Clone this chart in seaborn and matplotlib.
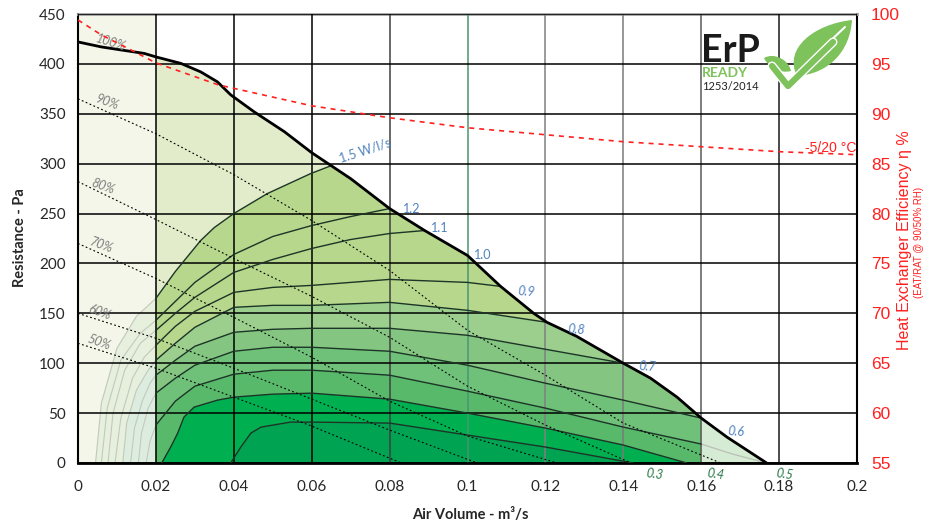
import matplotlib
matplotlib.use("Agg")
import matplotlib.pyplot as plt
import seaborn as sns
from matplotlib.path import Path
from matplotlib.patches import PathPatch
import matplotlib.patheffects as pe

sns.set_style("white")
plt.rcParams["font.family"] = ["Lato", "DejaVu Sans"]

# fan curve at 100 %
fan_x = [0, 0.006, 0.011, 0.017, 0.02, 0.0264, 0.0315, 0.0358, 0.0392, 0.0452, 0.053, 0.06,
         0.065, 0.07, 0.08, 0.089, 0.1, 0.1085, 0.117, 0.1204, 0.128, 0.14, 0.147, 0.1538,
         0.16, 0.1666, 0.1768]
fan_y = [422, 417, 414, 410.5, 407, 400.5, 392, 382, 369, 352, 332, 311,
         298, 285, 255, 233, 208, 177, 150, 141, 127, 100, 85, 66,
         45, 26, 0]

# reduced fan speeds (dotted)
speed_labels = ["90%", "80%", "70%", "60%", "50%"]
speed_x = [
    [0, 0.02, 0.04, 0.06, 0.08, 0.1, 0.12, 0.14, 0.165],
    [0, 0.02, 0.04, 0.06, 0.08, 0.1, 0.12, 0.142],
    [0, 0.02, 0.04, 0.06, 0.08, 0.1, 0.123],
    [0, 0.02, 0.04, 0.06, 0.08, 0.1025],
    [0, 0.02, 0.04, 0.06, 0.083],
]
speed_y = [
    [365, 330, 289, 243, 193, 133, 88, 40, 0],
    [282, 244, 205, 167, 126, 77, 38, 0],
    [220, 185, 146, 106, 62, 27, 0],
    [150, 125, 95, 64, 33, 0],
    [120, 95, 66, 37, 0],
]

# SFP contours (W/l/s)
sfp_levels = [1.5, 1.2, 1.1, 0.9, 0.8, 0.7, 0.6, 0.5, 0.4, 0.3]
sfp_x = [
    [0.02, 0.025, 0.0315, 0.035, 0.04, 0.0486, 0.0597, 0.065],
    [0.02, 0.025, 0.03, 0.04, 0.05, 0.06, 0.07, 0.08],
    [0.02, 0.025, 0.03, 0.04, 0.05, 0.06, 0.07, 0.08, 0.089],
    [0.02, 0.025, 0.03, 0.04, 0.05, 0.06, 0.08, 0.1, 0.1085],
    [0.02, 0.025, 0.03, 0.04, 0.05, 0.06, 0.08, 0.1, 0.1204],
    [0.02, 0.025, 0.03, 0.04, 0.05, 0.06, 0.08, 0.1, 0.12, 0.14],
    [0.02, 0.025, 0.03, 0.04, 0.05, 0.06, 0.08, 0.1, 0.12, 0.14, 0.16],
    [0.02, 0.025, 0.03, 0.04, 0.05, 0.06, 0.08, 0.1, 0.12, 0.14, 0.16],
    [0.0215, 0.0238, 0.0256, 0.0272, 0.0298, 0.0358, 0.04, 0.05, 0.06, 0.08, 0.1, 0.12, 0.14, 0.1563],
    [0.0392, 0.0418, 0.0444, 0.047, 0.0546, 0.06, 0.08, 0.1, 0.12, 0.1425],
]
sfp_y = [
    [165, 192, 223, 236, 250, 270, 290, 298],
    [143, 162, 181, 209, 227, 238, 247, 255],
    [133, 150, 166, 191, 204, 215, 224, 230, 233],
    [118, 137, 152, 171, 176, 178, 184, 181, 177],
    [103, 120, 136, 156, 158, 158, 161, 153, 141],
    [88, 103, 117, 131, 134, 135, 135, 128, 114, 100],
    [70, 85, 98, 112, 116, 116, 112, 98, 80, 63, 45],
    [38, 62, 77, 89, 93, 93, 88, 72, 55, 36, 19],
    [0, 16, 30, 46, 56, 63, 66, 69, 70, 64, 50, 35, 18, 0],
    [0, 16, 30, 36, 41, 41, 40, 28, 16, 0],
]
sfp_colors = ["#b6d78c", "#b6d78c", "#b6d78c", "#b6d78c", "#9ccf8e",
              "#84c681", "#6fc079", "#59b96b", "#00b050", "#00a352"]

# faint continuations left of 0.02
ghost_x = [
    [0.0045, 0.006, 0.01, 0.015, 0.02],
    [0.006, 0.0075, 0.011, 0.016, 0.02],
    [0.0077, 0.009, 0.012, 0.016, 0.02],
    [0.0095, 0.011, 0.014, 0.017, 0.02],
    [0.0115, 0.0125, 0.015, 0.018, 0.02],
    [0.0135, 0.0145, 0.0165, 0.0185, 0.02],
    [0.0155, 0.0163, 0.018, 0.02],
    [0.0175, 0.0185, 0.02],
]
ghost_y = [
    [0, 60, 115, 147, 165],
    [0, 55, 103, 130, 143],
    [0, 50, 93, 120, 133],
    [0, 45, 85, 106, 118],
    [0, 40, 73, 93, 103],
    [0, 35, 62, 80, 88],
    [0, 30, 55, 70],
    [0, 22, 38],
]
tail_x = [0.16, 0.168, 0.1768]
tail_y = [19, 9, 0]

# heat exchanger efficiency (right axis)
eff_x = [0, 0.006, 0.0136, 0.02, 0.036, 0.06, 0.08, 0.1, 0.12, 0.14, 0.16, 0.18, 0.2]
eff_y = [99.4, 97.9, 96.4, 95.1, 92.9, 90.8, 89.6, 88.6, 87.9, 87.2, 86.7, 86.2, 85.9]

# labels on the fan curve
fan_lbl = ["1.5 W/l/s", "1.2", "1.1", "1.0", "0.9", "0.8", "0.7", "0.6"]
fan_lbl_x = [0.0738, 0.0856, 0.0928, 0.1038, 0.1151, 0.128, 0.1462, 0.169]
fan_lbl_y = [313, 255, 236, 208, 172, 134, 97, 31]
low_lbl = ["0.3", "0.4", "0.5"]
low_lbl_x = [0.148, 0.1638, 0.1813]

x_ticks = [0, 0.02, 0.04, 0.06, 0.08, 0.1, 0.12, 0.14, 0.16, 0.18, 0.2]
x_ticklabels = ["0", "0.02", "0.04", "0.06", "0.08", "0.1", "0.12", "0.14", "0.16", "0.18", "0.2"]
vgrid_colors = ["black", "black", "black", "black", "#404040", "#4a9670",
                "#808080", "#7a7a7a", "#5a5a5a", "#1a1a1a", "black"]

W, H = 934, 525
fig, ax = plt.subplots(figsize=(W / 100, H / 100), dpi=100)
fig.subplots_adjust(left=78 / W, right=857 / W, bottom=1 - 463 / H, top=1 - 14 / H)

ax.set_xlim(0, 0.2)
ax.set_ylim(0, 450)

# background zones
ax.axvspan(0, 0.02, color="#f3f6e8", zorder=0.3, lw=0)
in_x = [x for x in fan_x if 0.02 <= x <= 0.16]
in_y = [y for x, y in zip(fan_x, fan_y) if 0.02 <= x <= 0.16]
ax.fill([0.02] + in_x + [0.16], [0] + in_y + [0], color="#e2ecca", lw=0, zorder=0.5)
out_x = [x for x in fan_x if x >= 0.16]
out_y = [y for x, y in zip(fan_x, fan_y) if x >= 0.16]
ax.fill([0.16] + out_x, [0] + out_y, color="#d6ebd3", lw=0, zorder=0.5)
ax.fill([ghost_x[0][0]] + ghost_x[0] + [0.02], [0] + ghost_y[0] + [0], color="#e7f0dd", lw=0, zorder=0.55)
ax.fill([ghost_x[4][0]] + ghost_x[4] + [0.02], [0] + ghost_y[4] + [0], color="#dcede0", lw=0, zorder=0.56)

# filled SFP zones
for i, (cx, cy) in enumerate(zip(sfp_x, sfp_y)):
    px = [cx[0]] + cx
    py = [0] + cy
    if cy[-1] > 0:
        for fx, fy in zip(fan_x, fan_y):
            if cx[-1] < fx <= 0.16:
                px.append(fx)
                py.append(fy)
        px.append(0.16)
        py.append(0)
    ax.fill(px, py, color=sfp_colors[i], lw=0, zorder=0.6 + i * 0.01)

for gx, gy in zip(ghost_x, ghost_y):
    sns.lineplot(x=gx, y=gy, ax=ax, color="#c2c8bf", lw=0.8, estimator=None, sort=False, zorder=1.1)
sns.lineplot(x=tail_x, y=tail_y, ax=ax, color="#b9bfb6", lw=0.9, estimator=None, sort=False, zorder=1.1)

for cx, cy in zip(sfp_x, sfp_y):
    sns.lineplot(x=cx, y=cy, ax=ax, color="#1d3527", lw=1.0, estimator=None, sort=False, zorder=3)

for sx, sy in zip(speed_x, speed_y):
    sns.lineplot(x=sx, y=sy, ax=ax, color="black", lw=0.8, linestyle=(0, (1.6, 2.2)),
                 estimator=None, sort=False, zorder=3)

sns.lineplot(x=fan_x, y=fan_y, ax=ax, color="black", lw=2.0, estimator=None, sort=False, zorder=4)

# grid
ax.set_axisbelow(False)
ax.grid(True, color="black", lw=1.1)
ax.set_xticks(x_ticks)
ax.set_xticklabels(x_ticklabels)
ax.set_yticks(range(0, 451, 50))
for gl, c in zip(ax.xaxis.get_gridlines(), vgrid_colors):
    gl.set_color(c)
ax.tick_params(axis="x", length=0, pad=12, labelsize=11)
ax.tick_params(axis="y", length=0, pad=9, labelsize=11)
ax.set_xlabel("")
ax.set_ylabel("")
for side in ["left", "right", "bottom"]:
    ax.spines[side].set_color("black")
    ax.spines[side].set_linewidth(1.5)
ax.spines["bottom"].set_linewidth(2)
ax.spines["top"].set_color("#a0a0a0")
ax.spines["top"].set_linewidth(2)

# fan-speed labels
ax.text(0.0085, 421, "100%", color="#7f7f7f", fontsize=9, style="italic", rotation=-17,
        ha="center", va="center", zorder=5)
speed_lbl_x = [0.0075, 0.0065, 0.006, 0.0055, 0.0055]
speed_lbl_y = [362, 277, 218, 151, 121]
for t, lx, ly in zip(speed_labels, speed_lbl_x, speed_lbl_y):
    ax.text(lx, ly, t, color="#7f7f7f", fontsize=9, style="italic", rotation=-20,
            ha="center", va="center", zorder=5)

for i, (t, lx, ly) in enumerate(zip(fan_lbl, fan_lbl_x, fan_lbl_y)):
    rot = 18 if i == 0 else (0 if i < 4 else -4)
    sty = "normal" if i < 4 else "italic"
    ax.text(lx, ly, t, color="#4f81bd", fontsize=9, style=sty, rotation=rot,
            ha="center", va="center", zorder=5)
for t, lx in zip(low_lbl, low_lbl_x):
    ax.text(lx, -11, t, color="#2b7a4b", fontsize=9, style="italic", rotation=-8,
            ha="center", va="center", zorder=5, clip_on=False)

# right axis: efficiency
ax2 = ax.twinx()
ax2.set_ylim(55, 100)
ax2.set_yticks(range(55, 101, 5))
sns.lineplot(x=eff_x, y=eff_y, ax=ax2, color="#ff2020", lw=1.2, linestyle=(0, (3, 3)),
             estimator=None, sort=False)
ax2.grid(False)
ax2.set_ylabel("")
ax2.tick_params(axis="y", length=0, pad=10, labelsize=12.5, labelcolor="#ff2020")
for lab in ax2.get_yticklabels():
    lab.set_family(["Liberation Sans", "DejaVu Sans"])
for sp in ax2.spines.values():
    sp.set_visible(False)
ax2.text(0.1933, 86.55, "-5/20 °C", color="#ff2020", fontsize=10, ha="center", va="center",
         family=["Liberation Sans", "DejaVu Sans"])

# axis titles
fig.text(20 / W, 1 - 238 / H, "Resistance - Pa", rotation=90, ha="center", va="center",
         fontsize=10.5, fontweight="bold")
fig.text(470 / W, 1 - 515 / H, "Air Volume - m³/s", ha="center", va="center",
         fontsize=10.5, fontweight="bold")
fig.text(904 / W, 1 - 240 / H, "Heat Exchanger Efficiency η %", rotation=90, ha="center",
         va="center", fontsize=11.5, color="#ff2020", family=["Liberation Sans", "DejaVu Sans"])
fig.text(919 / W, 1 - 242 / H, "(EAT/RAT @ 90/50% RH)", rotation=90, ha="center",
         va="center", fontsize=7, color="#ff2020", family=["Liberation Sans", "DejaVu Sans"])

# ErP logo
fig.text(701 / W, 1 - 51 / H, "ErP", fontsize=27, fontweight="bold", color="#1a1a1a",
         ha="left", va="center")
fig.text(702 / W, 1 - 73 / H, "READY", fontsize=10, fontweight="bold", color="#7dc25b",
         ha="left", va="center")
fig.text(702 / W, 1 - 86 / H, "1253/2014", fontsize=8, color="#222222", ha="left", va="center")


def fig_pts(pts):
    return [(x / W, 1 - y / H) for x, y in pts]


C4 = Path.CURVE4
leaf = Path(fig_pts([(797, 76), (783, 48), (815, 24), (852, 20), (850, 52), (828, 74), (797, 76)]),
            [Path.MOVETO, C4, C4, C4, C4, C4, C4])
fig.patches.append(PathPatch(leaf, transform=fig.transFigure, color="#7dc25b", lw=0))
small = Path(fig_pts([(764, 58), (774, 52), (789, 60), (791, 71), (780, 74), (768, 67), (764, 58)]),
             [Path.MOVETO, C4, C4, C4, C4, C4, C4])
fig.patches.append(PathPatch(small, transform=fig.transFigure, color="#7dc25b", lw=0))
vein = fig_pts([(806, 68), (825, 46), (845, 27)])
fig.lines.append(plt.Line2D([p[0] for p in vein], [p[1] for p in vein], transform=fig.transFigure,
                            color="white", lw=1.5))
check = fig_pts([(772, 66), (788, 86), (833, 42)])
fig.lines.append(plt.Line2D([p[0] for p in check], [p[1] for p in check], transform=fig.transFigure,
                            color="#7dc25b", lw=4.5, solid_capstyle="round",
                            path_effects=[pe.Stroke(linewidth=6.5, foreground="white"), pe.Normal()]))

fig.savefig("out.png", dpi=100)
